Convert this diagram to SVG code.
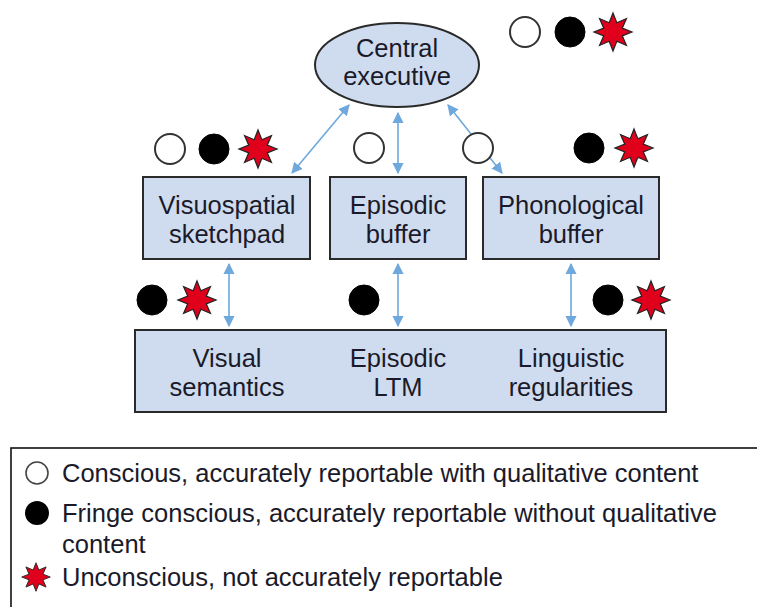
<svg xmlns="http://www.w3.org/2000/svg" xmlns:xlink="http://www.w3.org/1999/xlink" width="757" height="607" viewBox="0 0 757 607">
<style>
.node{fill:#cfdcef;stroke:#2a2a2a;stroke-width:2}
.t{font-family:"Liberation Sans",Arial,sans-serif;font-size:25.5px;fill:#1a1a2a;text-anchor:middle}
.lt{font-family:"Liberation Sans",Arial,sans-serif;font-size:25.5px;fill:#1a1a2a}
.conn{stroke:#6fa8dc;stroke-width:1.6;fill:none;marker-start:url(#ah);marker-end:url(#ah)}
.open{fill:#fff;stroke:#333;stroke-width:2}
.fill{fill:#000;stroke:#000;stroke-width:1}
.star{fill:#e0001b;stroke:#222;stroke-width:1.2;stroke-linejoin:miter}
</style>
<defs>
<marker id="ah" viewBox="0 0 10 10" refX="9" refY="5" markerWidth="7" markerHeight="7" markerUnits="strokeWidth" orient="auto-start-reverse">
<path d="M0,0 L10,5 L0,10 z" fill="#6fa8dc"/>
</marker>
<polygon id="star" class="star" points="0,-19 3.83,-9.24 13.44,-13.44 9.24,-3.83 19,0 9.24,3.83 13.44,13.44 3.83,9.24 0,19 -3.83,9.24 -13.44,13.44 -9.24,3.83 -19,0 -9.24,-3.83 -13.44,-13.44 -3.83,-9.24"/>
</defs>
<rect width="757" height="607" fill="#fff"/>

<g id="connectors">
<line class="conn" x1="349" y1="105" x2="292" y2="173"/>
<line class="conn" x1="398" y1="113" x2="398" y2="173"/>
<line class="conn" x1="448" y1="105" x2="502" y2="173"/>
<line class="conn" x1="229" y1="264" x2="229" y2="326"/>
<line class="conn" x1="398" y1="264" x2="398" y2="326"/>
<line class="conn" x1="571" y1="264" x2="571" y2="326"/>
</g>

<g id="central-executive">
<ellipse class="node" cx="397" cy="65" rx="82" ry="42" stroke-width="1.6"/>
<text class="t" x="397" y="57">Central</text>
<text class="t" x="397" y="85">executive</text>
</g>

<g id="visuospatial-sketchpad">
<rect class="node" x="143" y="177" width="167" height="82"/>
<text class="t" x="227" y="214">Visuospatial</text>
<text class="t" x="227" y="243">sketchpad</text>
</g>

<g id="episodic-buffer">
<rect class="node" x="330" y="177" width="136" height="82"/>
<text class="t" x="398" y="214">Episodic</text>
<text class="t" x="398" y="243">buffer</text>
</g>

<g id="phonological-buffer">
<rect class="node" x="483" y="177" width="176" height="82"/>
<text class="t" x="571" y="214">Phonological</text>
<text class="t" x="571" y="243">buffer</text>
</g>

<g id="ltm">
<rect class="node" x="135" y="330" width="531" height="82"/>
<text class="t" x="227" y="367">Visual</text>
<text class="t" x="227" y="396">semantics</text>
<text class="t" x="398" y="367">Episodic</text>
<text class="t" x="398" y="396">LTM</text>
<text class="t" x="571" y="367">Linguistic</text>
<text class="t" x="571" y="396">regularities</text>
</g>

<g id="markers">
<circle class="open" cx="525" cy="32" r="15"/>
<circle class="fill" cx="570" cy="32" r="15"/>
<use xlink:href="#star" x="613" y="32"/>

<circle class="open" cx="170" cy="149" r="15"/>
<circle class="fill" cx="214" cy="149" r="15"/>
<use xlink:href="#star" x="258" y="149"/>
<circle class="open" cx="369" cy="148" r="15"/>
<circle class="open" cx="478" cy="148" r="15"/>
<circle class="fill" cx="589" cy="148" r="15"/>
<use xlink:href="#star" x="634" y="148"/>

<circle class="fill" cx="152" cy="300" r="15"/>
<use xlink:href="#star" x="197" y="300"/>
<circle class="fill" cx="364" cy="300" r="15"/>
<circle class="fill" cx="608" cy="300" r="15"/>
<use xlink:href="#star" x="651" y="300"/>
</g>

<g id="legend">
<rect x="11" y="448" width="760" height="170" fill="#fff" stroke="#111" stroke-width="1.6"/>
<circle cx="37" cy="473" r="11" fill="#fff" stroke="#444" stroke-width="1.6"/>
<text class="lt" x="62" y="482">Conscious, accurately reportable with qualitative content</text>
<circle cx="37" cy="513" r="12" fill="#000"/>
<text class="lt" x="62" y="522">Fringe conscious, accurately reportable without qualitative</text>
<text class="lt" x="62" y="553">content</text>
<use xlink:href="#star" transform="translate(36,577) scale(0.75)"/>
<text class="lt" x="62" y="586">Unconscious, not accurately reportable</text>
</g>
</svg>
